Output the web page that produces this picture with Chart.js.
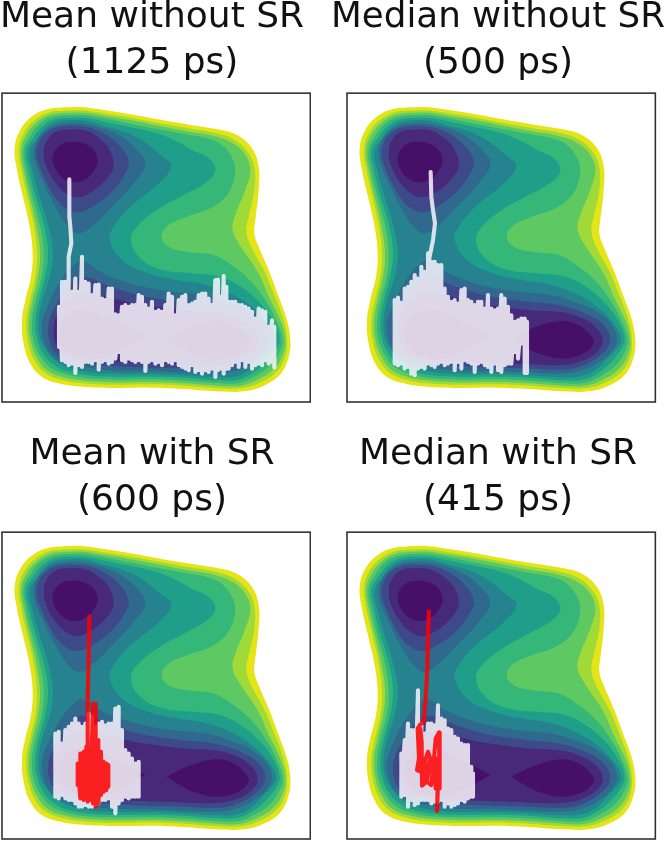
<!DOCTYPE html>
<html><head><meta charset="utf-8">
<script src="https://cdn.jsdelivr.net/npm/chart.js@4"></script>
<style>
html,body{margin:0;padding:0;background:#fff;overflow:hidden;width:665px;height:841px}
.p{position:absolute}
</style></head><body>
<div class="p" id="w0" style="left:-7px;top:-5px;width:318px;height:408px"><canvas id="c0"></canvas></div>
<div class="p" id="w1" style="left:331px;top:-5px;width:334px;height:408px"><canvas id="c1"></canvas></div>
<div class="p" id="w2" style="left:-7px;top:432px;width:318px;height:408px"><canvas id="c2"></canvas></div>
<div class="p" id="w3" style="left:331px;top:432px;width:334px;height:408px"><canvas id="c3"></canvas></div>
<script>
const titles=[["Mean without SR","(1125 ps)"],["Median without SR","(500 ps)"],["Mean with SR","(600 ps)"],["Median with SR","(415 ps)"]];
const levelColors=["#e5e419","#a0da39","#5ec962","#35b779","#1f9e89","#26828e","#31688e","#3e4989","#482878","#461068"];

// contour outlines [x,y], [level index, points]
const level0=[[190,52],[140,58],[95,80],[60,120],[43,175],[50,240],[68,320],[88,410],[97,490],[92,560],[75,630],[65,690],[70,760],[90,820],[125,860],[180,880],[260,890],[350,893],[450,892],[550,896],[650,903],[730,903],[790,886],[840,852],[865,800],[870,750],[860,690],[835,620],[805,540],[775,470],[762,430],[765,390],[775,300],[775,230],[755,175],[710,135],[650,118],[570,105],[480,90],[400,75],[320,62],[250,52]];
const level1=[[190,62],[145,68],[105,90],[73,126],[56,175],[63,240],[81,320],[101,410],[110,490],[105,560],[89,630],[78,690],[83,755],[102,810],[134,848],[185,869],[260,880],[350,883],[450,882],[550,886],[650,893],[728,893],[783,875],[830,843],[855,798],[860,750],[850,692],[824,620],[792,543],[750,465],[738,420],[745,380],[762,300],[762,232],[741,184],[698,147],[645,129],[565,115],[478,100],[398,85],[318,72],[250,62]];
const level2=[[190,69],[150,75],[112,96],[81,131],[63,178],[70,240],[88,320],[109,410],[119,490],[113,560],[97,630],[86,690],[91,752],[111,804],[141,841],[190,861],[262,872],[350,876],[450,875],[550,879],[650,886],[722,886],[775,867],[822,835],[848,793],[855,750],[842,695],[808,625],[772,545],[722,470],[697,420],[705,375],[735,300],[750,238],[730,188],[690,156],[640,138],[560,124],[478,108],[396,92],[316,79],[250,69]];
const level3=[[190,76],[155,82],[120,100],[92,135],[70,180],[77,240],[96,320],[120,410],[130,490],[124,560],[106,630],[95,690],[100,750],[122,800],[150,832],[195,852],[265,864],[350,868],[450,867],[550,871],[650,878],[716,878],[765,858],[810,826],[838,785],[847,750],[830,695],[795,630],[748,570],[700,530],[640,495],[560,485],[505,470],[484,440],[505,405],[560,380],[630,355],[680,315],[703,260],[700,215],[670,170],[630,148],[555,133],[475,118],[393,102],[313,86],[250,76]];
const level4=[[190,84],[160,90],[128,108],[102,140],[78,182],[86,240],[106,320],[132,410],[143,490],[134,560],[116,630],[105,690],[110,745],[132,795],[162,825],[200,843],[270,856],[350,860],[450,859],[550,862],[650,870],[712,868],[758,848],[798,815],[828,775],[838,745],[820,695],[780,640],[722,590],[660,560],[580,550],[490,540],[420,505],[392,450],[410,410],[470,360],[560,310],[620,275],[645,240],[625,205],[575,180],[530,155],[470,130],[390,112],[310,95],[250,84]];
const level5=[[190,92],[163,98],[135,115],[112,145],[88,185],[96,240],[118,320],[145,410],[158,490],[148,560],[126,630],[115,690],[120,745],[144,788],[172,815],[208,833],[275,847],[350,851],[450,851],[550,855],[650,861],[706,858],[752,838],[788,802],[818,770],[828,745],[805,700],[755,650],[690,610],[610,583],[520,568],[430,545],[365,510],[328,450],[340,410],[390,350],[470,285],[513,228],[480,195],[430,155],[380,128],[310,108],[250,92]];
const level6a=[[205,100],[165,106],[132,125],[108,155],[100,190],[108,230],[130,280],[165,350],[205,410],[238,430],[280,405],[335,350],[395,285],[435,222],[405,175],[355,135],[300,113],[250,102]];
const level6b=[[240,510],[205,540],[170,590],[145,640],[125,700],[132,755],[155,795],[195,820],[260,832],[350,842],[450,843],[550,847],[640,850],[710,840],[770,810],[805,775],[815,745],[800,705],[755,665],[700,640],[620,615],[520,605],[430,590],[360,570],[300,545],[265,520]];
const level7a=[[210,107],[170,112],[135,130],[115,160],[108,195],[120,235],[140,280],[170,330],[205,360],[235,367],[275,350],[330,310],[375,250],[385,215],[360,170],[310,130],[260,112]];
const level7b=[[240,560],[205,590],[170,640],[145,700],[150,760],[180,800],[235,815],[350,828],[550,835],[650,838],[715,825],[770,790],[795,750],[775,705],[720,670],[640,645],[550,635],[450,622],[380,605],[320,585],[275,565]];
const level8a=[[215,118],[170,124],[140,150],[130,190],[140,235],[170,285],[205,315],[235,322],[275,305],[320,265],[340,225],[325,175],[290,140],[255,122]];
const level8b=[[230,610],[195,630],[170,670],[160,720],[170,770],[200,800],[250,808],[350,815],[550,822],[650,824],[710,812],[755,785],[772,750],[750,710],[700,680],[640,665],[550,660],[470,650],[400,640],[340,625],[280,612]];
const level9a=[[225,155],[190,160],[165,180],[157,210],[170,245],[195,270],[225,277],[260,265],[285,235],[292,210],[280,180],[255,162]];
const level9b=[[435,740],[380,710],[310,675],[250,660],[200,675],[180,720],[190,770],[225,795],[290,805],[350,785],[400,760]];
const level9c=[[498,745],[560,715],[640,693],[700,705],[740,740],[745,760],[715,790],[650,805],[580,790],[530,765]];
const contours=[[0,level0],[1,level1],[2,level2],[3,level3],[4,level4],[5,level5],[6,level6a],[6,level6b],[7,level7a],[7,level7b],[8,level8a],[8,level8b],[9,level9a],[9,level9b],[9,level9c]];

// trajectories: stem points [x,y], then [x, top y, bottom y] per sweep
const stemA=[[207,268],[207,380],[210,410],[213,460],[205,500],[205,560]];
const sweepA=[[205,595,825],[195,575,815],[185,575,810],[176,650,770],[215,605,820],[225,565,848],[235,605,825],[245,500,830],[255,575,815],[265,580,815],[275,615,820],[285,585,810],[295,583,838],[305,625,815],[315,630,810],[325,595,820],[335,595,815],[345,672,805],[355,675,785],[365,650,810],[375,645,815],[385,650,805],[395,645,810],[405,645,815],[415,615,810],[425,620,815],[435,645,842],[445,655,815],[455,635,810],[465,665,820],[475,660,815],[485,665,825],[495,645,810],[505,610,815],[515,620,820],[525,675,810],[535,630,825],[545,620,830],[555,615,835],[565,645,840],[575,640,825],[585,635,845],[595,615,840],[605,610,850],[615,610,840],[625,625,845],[635,645,835],[645,570,860],[653,568,840],[661,620,835],[670,558,850],[678,590,835],[685,635,835],[695,635,825],[705,635,815],[715,645,830],[725,645,810],[735,650,830],[745,655,815],[755,665,835],[765,685,825],[775,655,820],[785,660,825],[795,665,810],[805,710,820],[815,690,815],[822,710,832]];
const stemB=[[273,246],[275,320],[280,360],[286,400],[280,450],[272,490],[268,510]];
const sweepB=[[265,490,820],[255,545,835],[245,530,830],[235,565,835],[225,555,855],[215,575,850],[205,590,830],[195,595,835],[185,638,820],[175,622,825],[165,630,820],[275,515,825],[285,515,830],[295,525,820],[305,525,815],[315,595,825],[325,620,820],[335,635,815],[345,630,840],[355,640,815],[365,600,835],[375,595,810],[385,630,815],[395,635,820],[405,645,845],[415,635,820],[425,635,815],[435,655,825],[445,615,830],[455,655,845],[465,660,820],[475,655,840],[485,615,845],[495,625,825],[505,650,820],[515,675,820],[525,695,785],[535,690,805],[545,685,760],[555,685,848],[562,695,848]];
const sweepC=[[165,625,815],[175,620,820],[185,655,810],[195,615,820],[205,605,825],[215,595,825],[225,580,835],[235,595,845],[245,605,845],[255,595,840],[265,565,845],[275,575,845],[285,605,840],[295,595,835],[305,590,825],[315,600,825],[325,595,820],[335,595,845],[345,550,865],[355,545,835],[365,615,825],[375,675,815],[385,685,820],[395,700,815],[405,715,815],[415,710,815]];
const redStemC=[[267,268],[265,400],[262,520],[262,660]];
const redSweepC=[[258,665,815],[250,680,825],[240,685,820],[232,715,780],[262,665,830],[270,665,825],[278,535,835],[286,535,845],[294,645,835],[302,680,810],[310,710,800],[318,715,795],[324,720,785]];
const sweepD=[[185,685,815],[195,645,810],[205,595,845],[215,615,825],[225,615,840],[235,495,835],[245,595,825],[255,625,825],[265,595,825],[275,595,835],[285,600,830],[295,540,830],[305,580,825],[315,585,845],[325,610,835],[335,615,845],[345,635,840],[355,640,835],[365,655,825],[375,660,830],[385,660,820],[395,725,815],[400,745,815]];
const redPathD=[[268,253],[265,330],[263,430],[258,520],[252,590],[240,600],[234,610],[238,700],[232,735],[245,740],[242,610],[246,650],[247,782],[255,775],[258,700],[265,680],[272,700],[262,770],[275,780],[283,700],[288,640],[298,622],[300,790],[288,790],[288,700],[298,700],[292,858],[295,750],[275,740],[300,720]];

const pts=a=>a.map(p=>({x:p[0],y:p[1]}));
const zig=(stem,sweep)=>{const o=pts(stem);sweep.forEach(s=>{o.push({x:s[0],y:s[1]},{x:s[0],y:s[2]});});return o;};
const whiteTraces=[zig(stemA,sweepA),zig(stemB,sweepB),zig([],sweepC),zig([],sweepD)];
const redTraces=[null,null,zig(redStemC,redSweepC),pts(redPathD)];

const frames=[{ox:5,oy:10,h:925,sl:27,sr:2},{ox:22,oy:10,h:925,sl:48,sr:29},{ox:5,oy:20,h:922,sl:27,sr:2},{ox:22,oy:20,h:922,sl:48,sr:29}];
const titleGap=[6,6,8,8];

const framePlugin={id:'frame',afterDatasetsDraw(ch){
  const f=frames[ch.options.panelIndex],sx=ch.scales.x,sy=ch.scales.y,c=ch.ctx;
  const l=sx.getPixelForValue(f.ox),r=sx.getPixelForValue(f.ox+925),t=sy.getPixelForValue(f.oy),b=sy.getPixelForValue(f.oy+f.h);
  c.save();c.strokeStyle='#333';c.lineWidth=1.6;c.strokeRect(l,t,r-l,b-t);c.restore();}};

titles.forEach((t,i)=>{
  const f=frames[i];
  const ds=contours.map(([lv,poly],k)=>{
    const d=pts(poly).map(p=>({x:p.x-5+f.ox,y:p.y-10+f.oy}));d.push(d[0]);
    return {data:d,showLine:true,fill:'shape',backgroundColor:levelColors[lv],borderWidth:0,pointRadius:0,tension:0.4,order:100-k};
  });
  ds.push({data:whiteTraces[i],showLine:true,fill:false,borderColor:'rgba(248,246,251,0.85)',borderWidth:4.1,borderJoinStyle:'round',borderCapStyle:'round',pointRadius:0,tension:0,order:2});
  if(redTraces[i])ds.push({data:redTraces[i],showLine:true,fill:false,borderColor:'rgba(255,0,0,0.85)',borderWidth:4.1,borderJoinStyle:'round',borderCapStyle:'butt',pointRadius:0,tension:0,order:1});
  new Chart(document.getElementById('c'+i),{type:'scatter',data:{datasets:ds},plugins:[framePlugin],options:{
    panelIndex:i,
    responsive:true,maintainAspectRatio:false,animation:false,events:[],
    layout:{padding:{left:0,right:0,top:0,bottom:1}},
    plugins:{legend:{display:false},tooltip:{enabled:false},
      title:{display:true,text:t,color:'#111',font:{family:'DejaVu Sans',size:36,weight:'normal',lineHeight:1.28},padding:{top:0,bottom:titleGap[i]}}},
    scales:{x:{display:false,min:f.ox-f.sl,max:f.ox+925+f.sr},y:{display:false,reverse:true,min:f.oy,max:f.oy+f.h}}
  }});
});
</script></body></html>
